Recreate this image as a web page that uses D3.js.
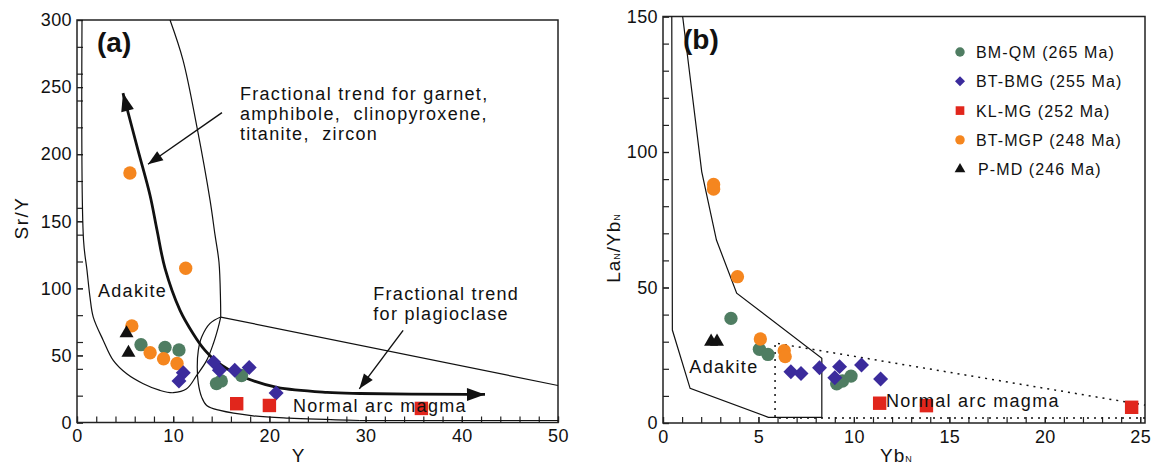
<!DOCTYPE html>
<html>
<head>
<meta charset="utf-8">
<script src="https://cdn.jsdelivr.net/npm/d3@7"></script>
<style>
  body { margin: 0; background: #fff; }
  svg { display: block; font-family: "Liberation Sans", Arial, sans-serif; }
</style>
</head>
<body>
<svg id="chart" width="1151" height="467"></svg>
<script>
// legend order
const seriesNames = ["BM-QM (265 Ma)", "BT-BMG (255 Ma)", "KL-MG (252 Ma)", "BT-MGP (248 Ma)", "P-MD (246 Ma)"];

// panel (a): Y vs Sr/Y
const bmqmA = [[6.65, 58], [9.15, 56], [10.6, 54], [14.5, 29], [15.0, 31], [17.1, 35]];
const btbmgA = [[11.05, 37], [10.6, 31], [14.2, 45], [14.8, 39], [16.4, 39], [17.9, 41], [20.7, 22]];
const klmgA = [[16.6, 14], [20.0, 12.7], [35.8, 10.5]];
const btmgpA = [[5.5, 186], [11.3, 115], [5.7, 72], [7.6, 52], [9.0, 47.5], [10.4, 44]];
const pmdA = [[5.15, 66.5], [5.35, 52]];

// panel (b): YbN vs LaN/YbN
const bmqmB = [[3.56, 38.6], [5.05, 27.2], [5.5, 25.3], [9.1, 14.5], [9.4, 15.5], [9.85, 17.3]];
const btbmgB = [[6.7, 18.9], [7.23, 18.3], [8.2, 20.4], [9.0, 16.7], [9.25, 20.8], [10.4, 21.4], [11.4, 16.2]];
const klmgB = [[11.35, 7.3], [13.8, 6.4], [24.55, 5.8]];
const btmgpB = [[2.65, 88], [2.65, 86.3], [3.9, 54], [5.1, 31], [6.35, 26.7], [6.4, 24.5]];
const pmdB = [[2.52, 30], [2.83, 30]];

// field outlines, panel (a)
const adakiteRightA = [[9.67, 300], [11.02, 270.1], [12.47, 220.1], [13.83, 165.7], [14.35, 139.6], [14.76, 119.4], [14.92, 91.0], [14.94, 78.6]];
const adakiteLoopA = [[14.94, 78.6], [14.69, 71.1], [14.17, 58.7], [13.48, 46.3], [12.44, 35.1], [11.4, 25.1], [10.01, 22.2], [8.63, 23.9], [6.89, 28.9], [5.17, 36.3], [3.77, 46.3], [2.73, 61.2], [1.69, 78.6], [1.35, 93.5], [1.04, 113.4], [0.68, 135.8], [0.52, 300]];
const arcTopA = [[14.94, 78.6], [50, 27.6]];
const arcBaseA = [[50, 1.5], [29.4, 1.5]];
const arcCurveA = [[29.4, 1.5], [22, 3.2], [18.3, 5.0], [14.87, 9.0], [13.48, 12.7], [12.96, 18.9], [12.61, 29.1], [12.5, 41.3], [12.61, 53.7], [12.96, 63.7], [13.83, 73.9], [14.94, 78.6]];
const trendA = [[4.78, 245.5], [6.34, 203], [7.59, 169.4], [8.32, 143.3], [9.15, 114.9], [10.71, 83.6], [12.06, 66.4], [13.31, 53.7], [14.35, 46.3], [15.9, 38.8], [17.67, 32.8], [20.79, 26.1], [25.99, 22.4], [29.42, 21.6], [40.54, 20.9], [42.41, 20.9]];
const garnetArrowA = [[15.07, 231], [7.38, 192.5]];
const plagArrowA = [[33.9, 68.7], [29.35, 25.1]];

// field outlines, panel (b)
const adakiteB = [[0.46, 150], [0.49, 34.3], [1.42, 12.8], [5.52, 2.1], [8.32, 2.1], [8.32, 23.9], [3.86, 47.9], [2.8, 67.5], [2.03, 92.7], [1.03, 150]];
const arcFieldB = [[25.25, 1.8], [5.87, 1.8], [5.87, 29.5], [25.25, 6.6]];

// ticks
const xTicksA = d3.range(0, 51, 2);
const xLabelsA = [0, 10, 20, 30, 40, 50];
const yTicksA = Array.from(new Set([...d3.range(0, 301, 20), ...d3.range(0, 301, 50)]));
const yLabelsA = [0, 50, 100, 150, 200, 250, 300];
const xTicksB = d3.range(0, 26, 1);
const xLabelsB = [0, 5, 10, 15, 20, 25];
const yTicksB = d3.range(0, 151, 10);
const yLabelsB = [0, 50, 100, 150];

const styles = [
    { type: d3.symbolCircle, size: 140, color: "#4f7d62", rot: 0, legendSize: 70 },
    { type: d3.symbolSquare, size: 112, color: "#3b2b9c", rot: 45, legendSize: 50 },
    { type: d3.symbolSquare, size: 180, color: "#e1261c", rot: 0, legendSize: 75 },
    { type: d3.symbolCircle, size: 140, color: "#f5861f", rot: 0, legendSize: 70 },
    { type: d3.symbolTriangle, size: 85, color: "#111111", rot: 0, legendSize: 50 }
];
const drawOrder = [0, 3, 1, 2, 4];

const svg = d3.select("#chart");

const defs = svg.append("defs");
defs.append("marker").attr("id", "headThick")
    .attr("markerUnits", "userSpaceOnUse")
    .attr("viewBox", "-19 -7 20 14")
    .attr("markerWidth", 20).attr("markerHeight", 14)
    .attr("refX", 0).attr("refY", 0)
    .attr("orient", "auto-start-reverse")
    .append("path").attr("d", "M0,0L-18,-6.5L-18,6.5Z").attr("fill", "#111");
defs.append("marker").attr("id", "headThin")
    .attr("markerUnits", "userSpaceOnUse")
    .attr("viewBox", "-16 -6 17 12")
    .attr("markerWidth", 17).attr("markerHeight", 12)
    .attr("refX", 0).attr("refY", 0)
    .attr("orient", "auto")
    .append("path").attr("d", "M0,0L-15,-5.5L-15,5.5Z").attr("fill", "#111");

function drawPanel(p) {
    const g = svg.append("g");
    const { x, y } = p;
    const [x0, x1] = x.range();
    const [y0, y1] = y.range();

    const tickAxes = [
        [d3.axisBottom(x).tickValues(p.xTicks).tickFormat(""), `translate(0,${y0})`],
        [d3.axisLeft(y).tickValues(p.yTicks).tickFormat(""), `translate(${x0},0)`],
        [d3.axisBottom(x).tickValues(p.xLabels).tickPadding(7), `translate(0,${y0})`],
        [d3.axisLeft(y).tickValues(p.yLabels).tickPadding(5), `translate(${x0},0)`]
    ];
    tickAxes.forEach(([axis, tr]) => {
        const a = g.append("g").attr("transform", tr)
            .call(axis.tickSize(-6))
            .attr("font-size", 18).attr("font-family", null);
        a.select(".domain").remove();
        a.selectAll("line").attr("stroke", "#222").attr("stroke-width", 1.2);
        a.selectAll("text").attr("fill", "#111").attr("letter-spacing", 0.4);
    });

    g.append("rect")
        .attr("x", x0).attr("y", y1)
        .attr("width", x1 - x0).attr("height", y0 - y1)
        .attr("fill", "none").attr("stroke", "#222").attr("stroke-width", 1.5);

    const lineGen = curve => d3.line().x(d => x(d[0])).y(d => y(d[1])).curve(curve);
    p.lines.forEach(l => {
        g.append("path")
            .attr("d", lineGen(l.curve || d3.curveLinear)(l.data))
            .attr("fill", "none")
            .attr("stroke", "#111")
            .attr("stroke-width", l.width || 1.2)
            .attr("stroke-dasharray", l.dash || null)
            .attr("marker-start", l.start ? `url(#${l.start})` : null)
            .attr("marker-end", l.end ? `url(#${l.end})` : null);
    });

    drawOrder.forEach(i => {
        const s = styles[i];
        g.append("g").selectAll("path")
            .data(p.series[i])
            .enter()
            .append("path")
            .attr("d", d3.symbol().type(s.type).size(s.size))
            .attr("transform", d => `translate(${x(d[0])},${y(d[1])}) rotate(${s.rot})`)
            .attr("fill", s.color);
    });

    p.notes.forEach(n => {
        g.append("text")
            .attr("x", x(n.at[0])).attr("y", y(n.at[1]))
            .attr("font-size", 18)
            .attr("letter-spacing", 1.3)
            .style("white-space", "pre")
            .attr("fill", "#111")
            .text(n.text);
    });

    g.append("text")
        .attr("x", x0 + 20).attr("y", y1 + 32)
        .attr("font-size", 28).attr("font-weight", "bold")
        .attr("fill", "#111")
        .text(p.tag);
    return g;
}

const xA = d3.scaleLinear([0, 50], [77, 558]);
const yA = d3.scaleLinear([0, 300], [422.5, 20]);
drawPanel({
    x: xA, y: yA, tag: "(a)",
    xTicks: xTicksA, xLabels: xLabelsA, yTicks: yTicksA, yLabels: yLabelsA,
    series: [bmqmA, btbmgA, klmgA, btmgpA, pmdA],
    lines: [
        { data: adakiteRightA, curve: d3.curveCatmullRom },
        { data: adakiteLoopA, curve: d3.curveCatmullRom },
        { data: arcTopA },
        { data: arcBaseA },
        { data: arcCurveA, curve: d3.curveCatmullRom },
        { data: trendA, curve: d3.curveCatmullRom, width: 2.8, start: "headThick", end: "headThick" },
        { data: garnetArrowA, width: 1.4, end: "headThin" },
        { data: plagArrowA, width: 1.4, end: "headThin" }
    ],
    notes: [
        { text: "Fractional trend for garnet,", at: [16.94, 240.1] },
        { text: "amphibole,  clinopyroxene,", at: [16.94, 225.2] },
        { text: "titanite,  zircon", at: [16.94, 210.7] },
        { text: "Fractional trend", at: [30.8, 91.3] },
        { text: "for plagioclase", at: [30.8, 76.4] },
        { text: "Adakite", at: [2.18, 93.3] },
        { text: "Normal arc magma", at: [22.45, 8.1] }
    ]
});

const xB = d3.scaleLinear([0, 25.25], [663, 1145]);
const yB = d3.scaleLinear([0, 150], [423, 16.5]);
drawPanel({
    x: xB, y: yB, tag: "(b)",
    xTicks: xTicksB, xLabels: xLabelsB, yTicks: yTicksB, yLabels: yLabelsB,
    series: [bmqmB, btbmgB, klmgB, btmgpB, pmdB],
    lines: [
        { data: adakiteB },
        { data: arcFieldB, dash: "2,5", width: 1.5 }
    ],
    notes: [
        { text: "Adakite", at: [1.38, 18.3] },
        { text: "Normal arc magma", at: [11.68, 6.0] }
    ]
});

// legend in panel (b)
const legend = svg.append("g").attr("transform", "translate(960,52)");
seriesNames.forEach((name, i) => {
    const s = styles[i];
    const row = legend.append("g").attr("transform", `translate(0,${i * 29.3})`);
    row.append("path")
        .attr("d", d3.symbol().type(s.type).size(s.legendSize))
        .attr("transform", `rotate(${s.rot})`)
        .attr("fill", s.color);
    row.append("text")
        .attr("x", i === 4 ? 18 : 16).attr("y", 6)
        .attr("font-size", 16).attr("letter-spacing", 1.1)
        .attr("fill", "#111")
        .text(name);
});

// axis titles
svg.append("text")
    .attr("transform", "translate(28,218) rotate(-90)")
    .attr("text-anchor", "middle").attr("font-size", 19).attr("letter-spacing", 1.5)
    .attr("fill", "#111").text("Sr/Y");
svg.append("text")
    .attr("x", 298).attr("y", 462)
    .attr("text-anchor", "middle").attr("font-size", 19)
    .attr("fill", "#111").text("Y");

const laTitle = svg.append("text")
    .attr("transform", "translate(620,248) rotate(-90)")
    .attr("text-anchor", "middle").attr("font-size", 19).attr("letter-spacing", 1)
    .attr("fill", "#111");
laTitle.append("tspan").text("La");
laTitle.append("tspan").attr("font-size", 9).text("N");
laTitle.append("tspan").text("/Yb");
laTitle.append("tspan").attr("font-size", 9).text("N");

const ybTitle = svg.append("text")
    .attr("x", 880).attr("y", 462)
    .attr("font-size", 19).attr("letter-spacing", 1)
    .attr("fill", "#111");
ybTitle.append("tspan").text("Yb");
ybTitle.append("tspan").attr("font-size", 9).text("N");
</script>
</body>
</html>
